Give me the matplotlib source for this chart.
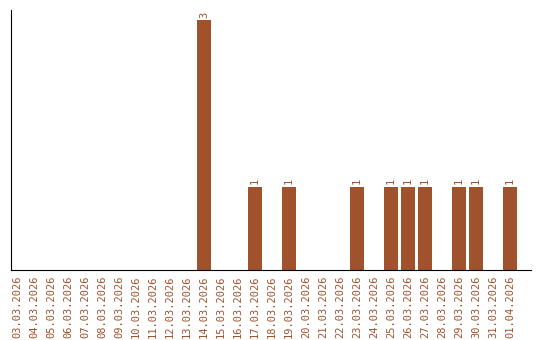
import matplotlib
matplotlib.use("Agg")
import matplotlib.pyplot as plt
import numpy as np

dates = ["03.03.2026", "04.03.2026", "05.03.2026", "06.03.2026", "07.03.2026",
         "08.03.2026", "09.03.2026", "10.03.2026", "11.03.2026", "12.03.2026",
         "13.03.2026", "14.03.2026", "15.03.2026", "16.03.2026", "17.03.2026",
         "18.03.2026", "19.03.2026", "20.03.2026", "21.03.2026", "22.03.2026",
         "23.03.2026", "24.03.2026", "25.03.2026", "26.03.2026", "27.03.2026",
         "28.03.2026", "29.03.2026", "30.03.2026", "31.03.2026", "01.04.2026"]
counts = [0, 0, 0, 0, 0, 0, 0, 0, 0, 0,
          0, 3, 0, 0, 1, 0, 1, 0, 0, 0,
          1, 0, 1, 1, 1, 0, 1, 1, 0, 1]

color = "#A0522D"
plt.rcParams['font.family'] = ['DejaVu Sans Mono']

fig = plt.figure(figsize=(5.4, 3.4), dpi=100)
ax = fig.add_axes([10.5/540, 70/340, 520/540, 260/340])

x = np.arange(len(dates))
bars = ax.bar(x, counts, width=0.82, color=color)
for xi, c in zip(x, counts):
    if c > 0:
        ax.text(xi, c + 0.03, str(c), rotation=90, ha='center', va='bottom',
                color=color, fontsize=7.5)

ax.set_xlim(-0.38, len(dates) + 0.2)
ax.set_ylim(0, 3.12)
ax.set_xticks(x)
ax.set_xticklabels(dates, rotation=90, color=color, fontsize=7.5)
ax.tick_params(axis='x', length=0, pad=4)
ax.set_yticks([])
ax.spines['top'].set_visible(False)
ax.spines['right'].set_visible(False)

fig.savefig("out.png", dpi=100)
